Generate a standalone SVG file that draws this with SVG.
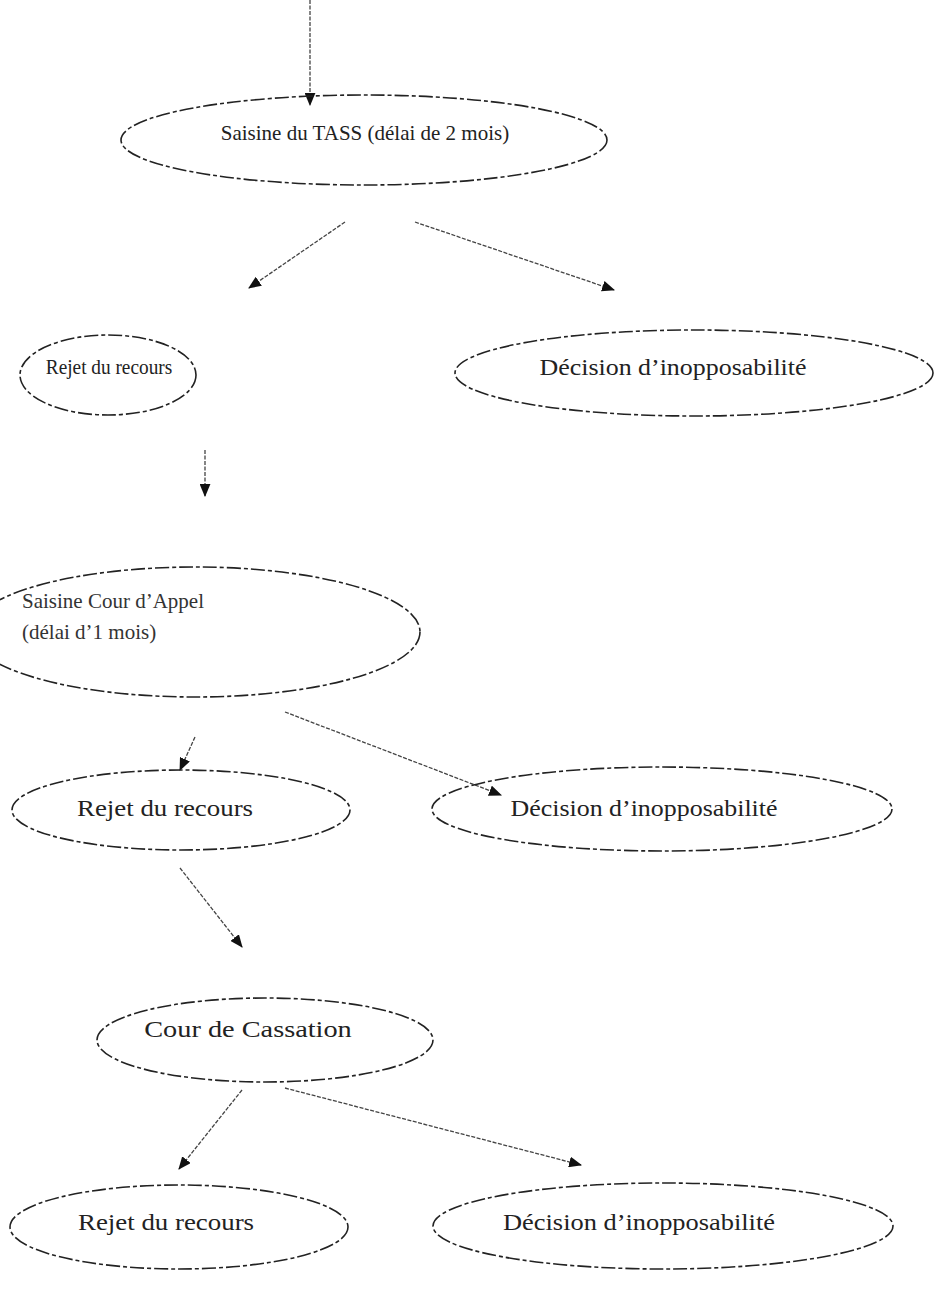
<svg xmlns="http://www.w3.org/2000/svg" width="935" height="1291" viewBox="0 0 935 1291">
<style>
.node{fill:none;stroke:#222;stroke-width:1.6;stroke-dasharray:14 3 4 3}
.lbl{font-family:"Liberation Serif","Times New Roman",serif;font-size:21px;fill:#222;text-anchor:middle}
.big{font-size:24px}
.lbl2{font-family:"Liberation Serif","Times New Roman",serif;font-size:21px;fill:#333}
.edge{stroke:#444;stroke-width:1.3;stroke-dasharray:4 1.5;fill:none;marker-end:url(#ah)}
</style>
<defs>
<marker id="ah" viewBox="0 0 12 10" refX="11" refY="5" markerWidth="13" markerHeight="11" markerUnits="userSpaceOnUse" orient="auto">
<path d="M0,0 L12,5 L0,10 z" fill="#111"/>
</marker>
</defs>
<rect width="935" height="1291" fill="#fff"/>
<g id="connectors">
<line class="edge" x1="310" y1="0" x2="310" y2="105"/>
<line class="edge" x1="345" y1="222" x2="249" y2="288"/>
<line class="edge" x1="415" y1="222" x2="614" y2="290"/>
<line class="edge" x1="205" y1="450" x2="205" y2="496"/>
<line class="edge" x1="195" y1="737" x2="180" y2="770"/>
<line class="edge" x1="285" y1="712" x2="501" y2="795"/>
<line class="edge" x1="180" y1="868" x2="242" y2="947"/>
<line class="edge" x1="242" y1="1090" x2="179" y2="1169"/>
<line class="edge" x1="285" y1="1088" x2="581" y2="1165"/>
</g>
<g id="n-tass">
<ellipse class="node" cx="364" cy="140" rx="243" ry="45"/>
<text class="lbl" x="365" y="140">Saisine du TASS (délai de 2 mois)</text>
</g>
<g id="n-rejet1">
<ellipse class="node" cx="108" cy="375" rx="88" ry="40"/>
<text class="lbl" transform="translate(109 374) scale(0.92 1)">Rejet du recours</text>
</g>
<g id="n-dec1">
<ellipse class="node" cx="694" cy="373" rx="239" ry="43"/>
<text class="lbl big" transform="translate(673 375) scale(1.08 1)">Décision d’inopposabilité</text>
</g>
<g id="n-appel">
<ellipse class="node" cx="195" cy="632" rx="225" ry="65"/>
<text class="lbl2" x="22" y="608">Saisine Cour d’Appel</text>
<text class="lbl2" x="22" y="639">(délai d’1 mois)</text>
</g>
<g id="n-rejet2">
<ellipse class="node" cx="181" cy="810" rx="169" ry="40"/>
<text class="lbl big" transform="translate(165 816) scale(1.12 1)">Rejet du recours</text>
</g>
<g id="n-dec2">
<ellipse class="node" cx="662" cy="809" rx="230" ry="42"/>
<text class="lbl big" transform="translate(644 816) scale(1.08 1)">Décision d’inopposabilité</text>
</g>
<g id="n-cass">
<ellipse class="node" cx="265" cy="1040" rx="168" ry="42"/>
<text class="lbl big" transform="translate(248 1037) scale(1.18 1)">Cour de Cassation</text>
</g>
<g id="n-rejet3">
<ellipse class="node" cx="179" cy="1227" rx="169" ry="42"/>
<text class="lbl big" transform="translate(166 1230) scale(1.12 1)">Rejet du recours</text>
</g>
<g id="n-dec3">
<ellipse class="node" cx="663" cy="1226" rx="230" ry="43"/>
<text class="lbl big" transform="translate(639 1230) scale(1.1 1)">Décision d’inopposabilité</text>
</g>
</svg>
